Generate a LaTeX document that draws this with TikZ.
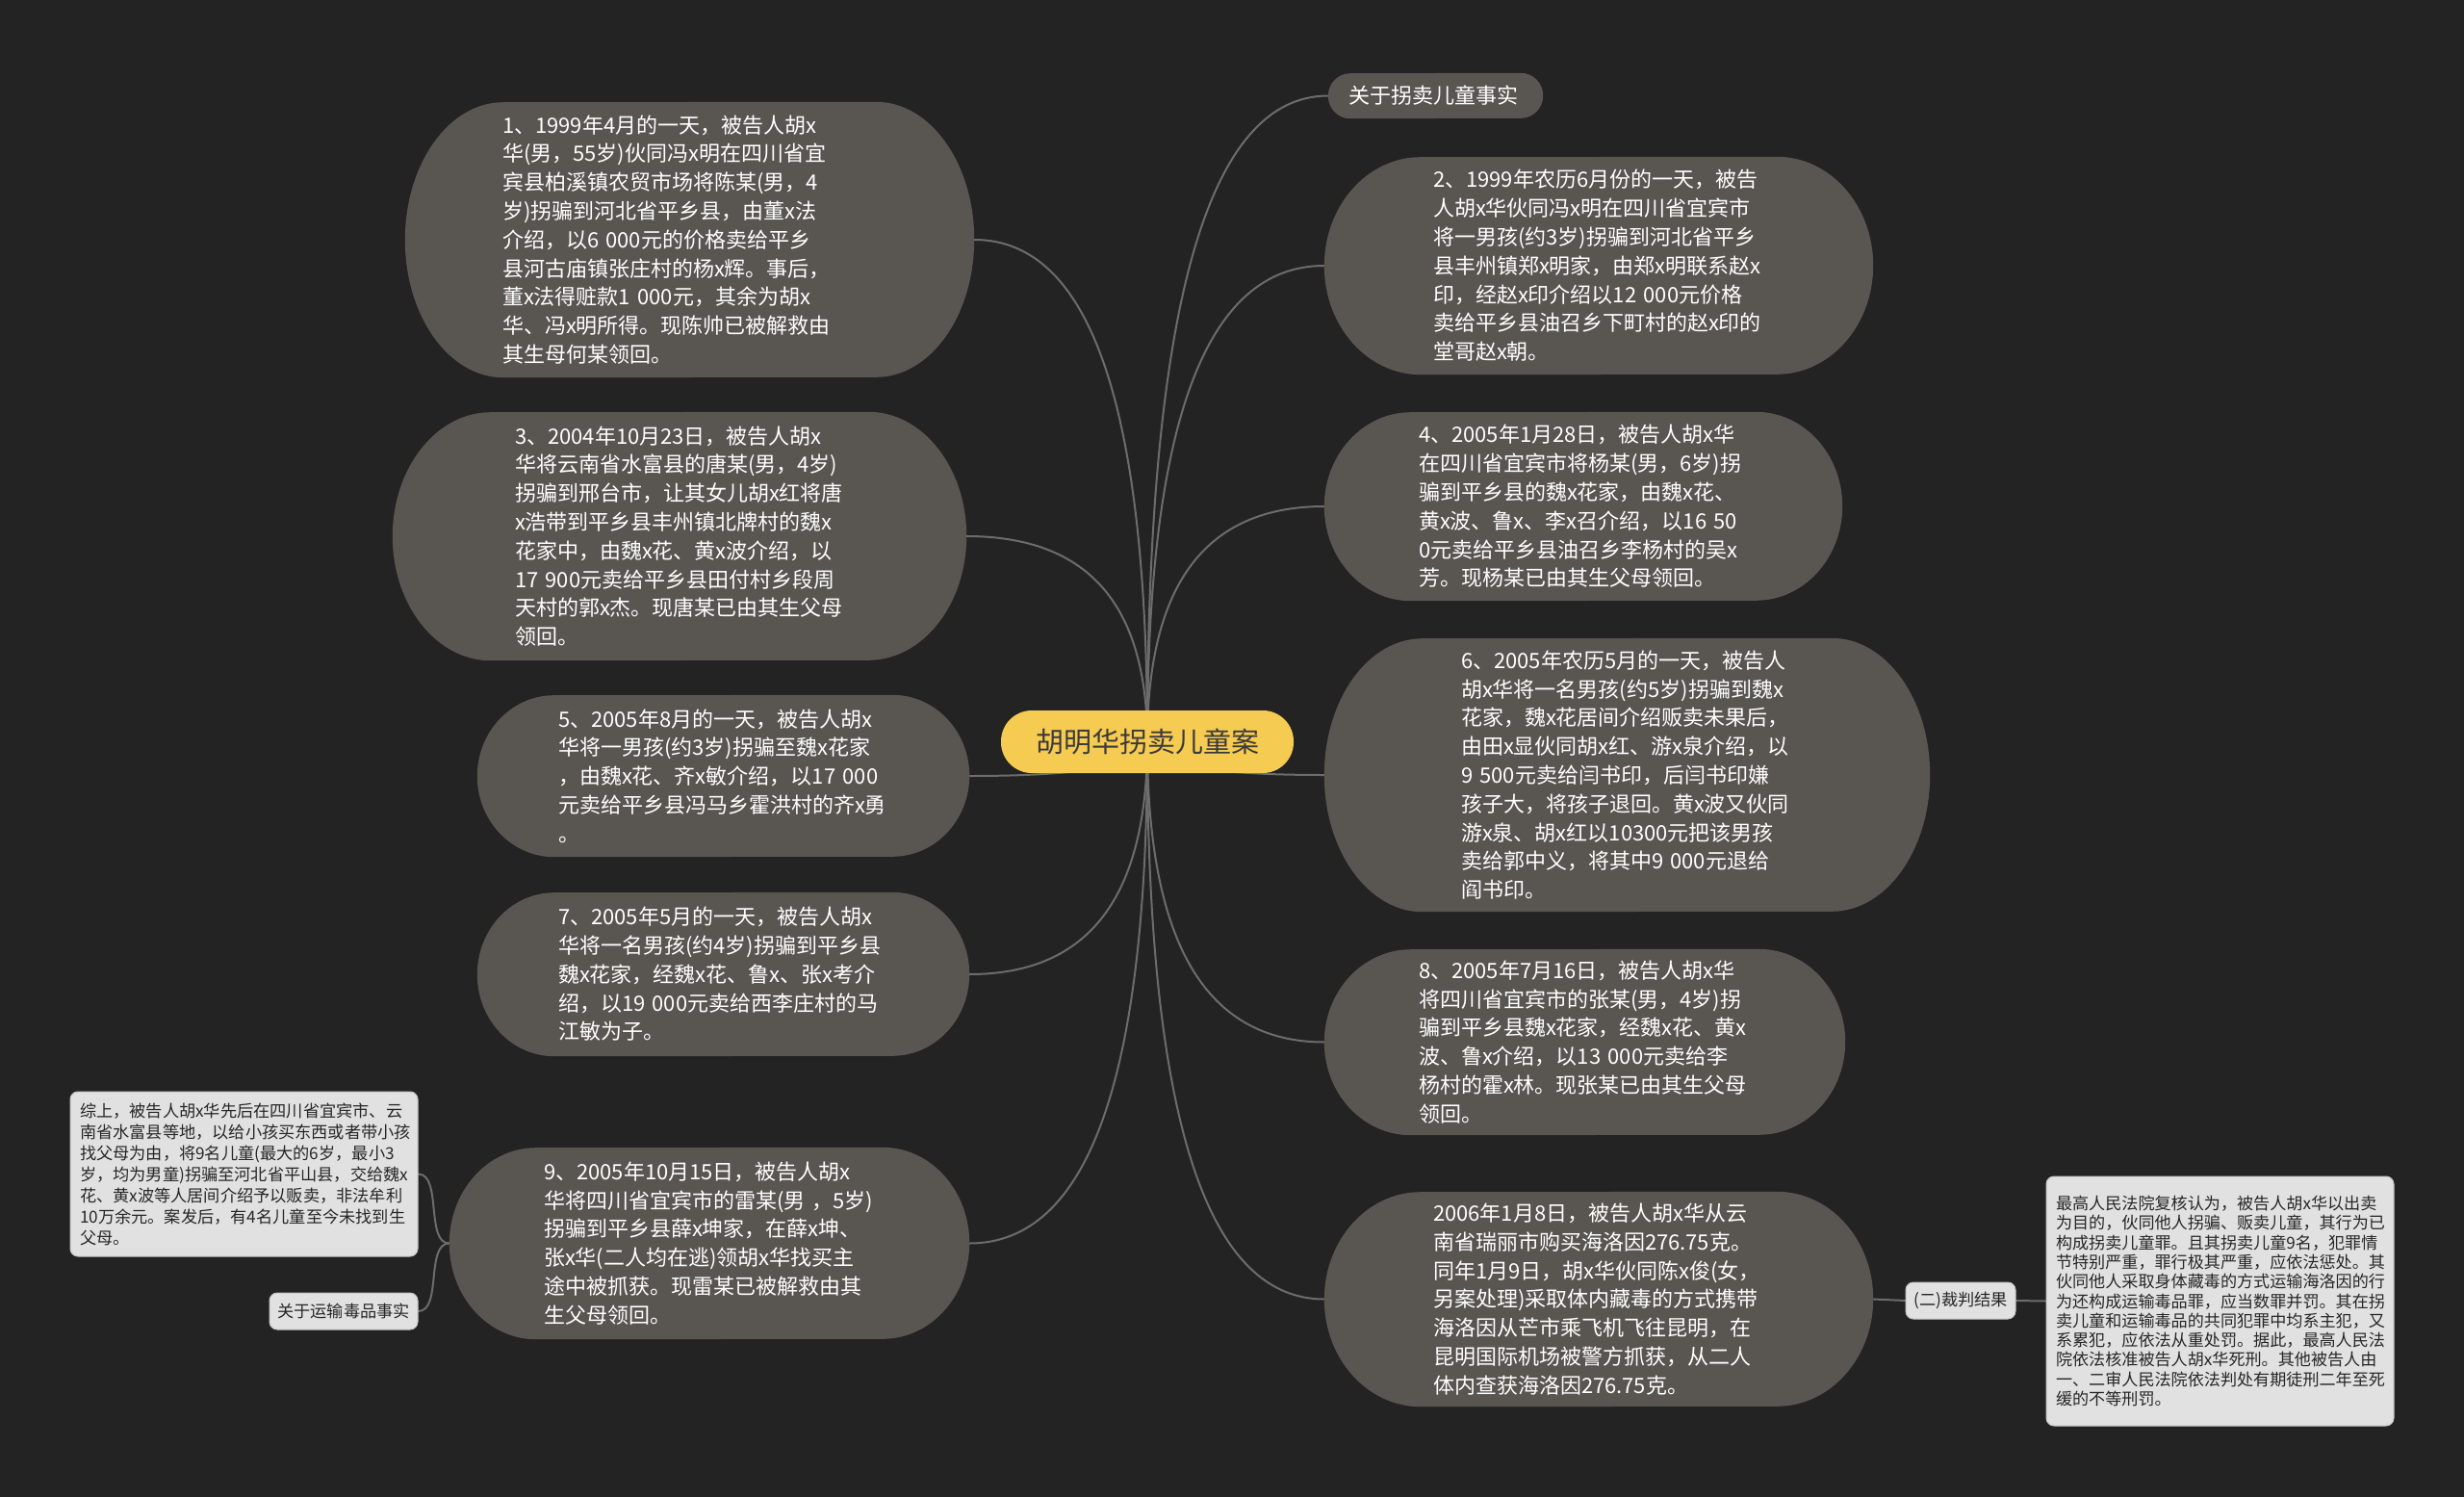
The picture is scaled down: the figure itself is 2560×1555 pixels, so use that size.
\documentclass[tikz,border=0pt]{standalone}
\usepackage{fontspec}
\setmainfont{Noto Sans CJK SC}
\usetikzlibrary{calc}
\pgfdeclarelayer{back}
\pgfdeclarelayer{links}
\pgfdeclarelayer{shapes}
\pgfsetlayers{back,links,shapes,main}
\definecolor{bgc}{HTML}{232323}
\definecolor{nodegray}{HTML}{595652}
\definecolor{nodetext}{HTML}{FFFFFF}
\definecolor{linegray}{HTML}{6C6C6C}
\definecolor{rootyellow}{HTML}{F6CB52}
\definecolor{roottext}{HTML}{3A3A3A}
\definecolor{lightbox}{HTML}{E1E1E1}
\definecolor{lightedge}{HTML}{C4C4C4}
\definecolor{darktext}{HTML}{262626}
\tikzset{
  gnode/.style={rectangle, text=nodetext, align=left, inner ysep=0pt,
    font=\fontsize{22}{29.8}\selectfont},
  lnode/.style={rectangle, fill=lightbox, draw=lightedge, line width=1pt, rounded corners=8pt,
    text=darktext, inner ysep=0pt},
  rootnode/.style={rectangle, fill=rootyellow, text=roottext, rounded corners=32pt,
    font=\fontsize{29}{34}\selectfont},
  conn/.style={draw=linegray, line width=2pt, line cap=round},
  pillfill/.style={fill=nodegray}
}
% quadratic-like branch from the root to a child
\newcommand\curvelink[2]{\draw[conn] (#1) .. controls ($(#1)!0.67!(#1 |- #2)$) and ($(#2)!0.67!(#1 |- #2)$) .. (#2);}
% pill body with elliptical ends behind a node: #1 name, #2 end x-radius, #3 half height
\newcommand\pill[3]{\fill[pillfill] ([xshift=-#2pt]#1.north east) arc[start angle=90, end angle=-90, x radius=#2pt, y radius=#3pt] -- ([xshift=#2pt]#1.south west) arc[start angle=270, end angle=90, x radius=#2pt, y radius=#3pt] -- cycle;}
\begin{document}
\begin{tikzpicture}[x=1pt,y=-1pt]
\useasboundingbox (0,0) rectangle (2560,1555);
\begin{pgfonlayer}{back}
\fill[bgc] (0,0) rectangle (2560,1555);
\end{pgfonlayer}

% root
\node[rootnode, minimum width=304pt, minimum height=65pt] (root) at (1192,770.5) {胡明华拐卖儿童案};

% left children
\node[gnode, text width=389pt, inner xsep=101pt, minimum height=286pt] (n1) at (716.5,249) {1、1999年4月的一天，被告人胡x\\华(男，55岁)伙同冯x明在四川省宜\\宾县柏溪镇农贸市场将陈某(男，4\\岁)拐骗到河北省平乡县，由董x法\\介绍，以6~000元的价格卖给平乡\\县河古庙镇张庄村的杨x辉。事后，\\董x法得赃款1~000元，其余为胡x\\华、冯x明所得。现陈帅已被解救由\\其生母何某领回。};

\node[gnode, text width=342pt, inner xsep=127pt, minimum height=258pt] (n3) at (706,557) {3、2004年10月23日，被告人胡x\\华将云南省水富县的唐某(男，4岁)\\拐骗到邢台市，让其女儿胡x红将唐\\x浩带到平乡县丰州镇北牌村的魏x\\花家中，由魏x花、黄x波介绍，以\\17~900元卖给平乡县田付村乡段周\\天村的郭x杰。现唐某已由其生父母\\领回。};

\node[gnode, text width=343pt, inner xsep=84pt, minimum height=168pt] (n5) at (751.5,806) {5、2005年8月的一天，被告人胡x\\华将一男孩(约3岁)拐骗至魏x花家\\，由魏x花、齐x敏介绍，以17~000\\元卖给平乡县冯马乡霍洪村的齐x勇\\。};

\node[gnode, text width=343pt, inner xsep=84pt, minimum height=170pt] (n7) at (751.5,1012) {7、2005年5月的一天，被告人胡x\\华将一名男孩(约4岁)拐骗到平乡县\\魏x花家，经魏x花、鲁x、张x考介\\绍，以19~000元卖给西李庄村的马\\江敏为子。};

\node[gnode, text width=344pt, inner xsep=98pt, minimum height=199pt] (n9) at (737,1291.5) {9、2005年10月15日，被告人胡x\\华将四川省宜宾市的雷某(男~，5岁)\\拐骗到平乡县薛x坤家，在薛x坤、\\张x华(二人均在逃)领胡x华找买主\\途中被抓获。现雷某已被解救由其\\生父母领回。};

% right children
\node[gnode, text width=181pt, inner xsep=21pt, minimum height=47pt] (t0) at (1491.5,99.5) {关于拐卖儿童事实};

\node[gnode, text width=344pt, inner xsep=113pt, minimum height=226pt] (n2) at (1661,276) {2、1999年农历6月份的一天，被告\\人胡x华伙同冯x明在四川省宜宾市\\将一男孩(约3岁)拐骗到河北省平乡\\县丰州镇郑x明家，由郑x明联系赵x\\印，经赵x印介绍以12~000元价格\\卖给平乡县油召乡下町村的赵x印的\\堂哥赵x朝。};

\node[gnode, text width=342pt, inner xsep=98pt, minimum height=196pt] (n4) at (1645,526) {4、2005年1月28日，被告人胡x华\\在四川省宜宾市将杨某(男，6岁)拐\\骗到平乡县的魏x花家，由魏x花、\\黄x波、鲁x、李x召介绍，以16~50\\0元卖给平乡县油召乡李杨村的吴x\\芳。现杨某已由其生父母领回。};

\node[gnode, text width=345pt, inner xsep=142pt, minimum height=284pt] (n6) at (1690.5,805) {6、2005年农历5月的一天，被告人\\胡x华将一名男孩(约5岁)拐骗到魏x\\花家，魏x花居间介绍贩卖未果后，\\由田x显伙同胡x红、游x泉介绍，以\\9~500元卖给闫书印，后闫书印嫌\\孩子大，将孩子退回。黄x波又伙同\\游x泉、胡x红以10300元把该男孩\\卖给郭中义，将其中9~000元退给\\阎书印。};

\node[gnode, text width=345pt, inner xsep=98pt, minimum height=193pt] (n8) at (1646.5,1082.5) {8、2005年7月16日，被告人胡x华\\将四川省宜宾市的张某(男，4岁)拐\\骗到平乡县魏x花家，经魏x花、黄x\\波、鲁x介绍，以13~000元卖给李\\杨村的霍x林。现张某已由其生父母\\领回。};

\node[gnode, text width=344pt, inner xsep=113pt, minimum height=223pt] (dr) at (1661,1349.5) {2006年1月8日，被告人胡x华从云\\南省瑞丽市购买海洛因276.75克。\\同年1月9日，胡x华伙同陈x俊(女，\\另案处理)采取体内藏毒的方式携带\\海洛因从芒市乘飞机飞往昆明，在\\昆明国际机场被警方抓获，从二人\\体内查获海洛因276.75克。};

% light boxes
\node[lnode, text width=341pt, inner xsep=10pt, minimum height=171pt, align=left, font=\fontsize{17.2}{22}\selectfont] (zs) at (253.5,1219.5) {综上，被告人胡x华先后在四川省宜宾市、云\\南省水富县等地，以给小孩买东西或者带小孩\\找父母为由，将9名儿童(最大的6岁，最小3\\岁，均为男童)拐骗至河北省平山县，交给魏x\\花、黄x波等人居间介绍予以贩卖，非法牟利\\10万余元。案发后，有4名儿童至今未找到生\\父母。};

\node[lnode, minimum width=154pt, minimum height=38pt, font=\fontsize{17.2}{20}\selectfont] (ys) at (357,1362) {关于运输毒品事实};

\node[lnode, minimum width=114pt, minimum height=38pt, font=\fontsize{17.2}{20}\selectfont] (cp) at (2037,1351) {(二)裁判结果};

\node[lnode, text width=341pt, inner xsep=10pt, minimum height=259pt, align=left, font=\fontsize{17.1}{20.3}\selectfont] (jd) at (2306.5,1351.5) {最高人民法院复核认为，被告人胡x华以出卖\\为目的，伙同他人拐骗、贩卖儿童，其行为已\\构成拐卖儿童罪。且其拐卖儿童9名，犯罪情\\节特别严重，罪行极其严重，应依法惩处。其\\伙同他人采取身体藏毒的方式运输海洛因的行\\为还构成运输毒品罪，应当数罪并罚。其在拐\\卖儿童和运输毒品的共同犯罪中均系主犯，又\\系累犯，应依法从重处罚。据此，最高人民法\\院依法核准被告人胡x华死刑。其他被告人由\\一、二审人民法院依法判处有期徒刑二年至死\\缓的不等刑罚。};

% pill bodies
\begin{pgfonlayer}{shapes}
\pill{n1}{102}{143}
\pill{n3}{102}{129}
\pill{n5}{80}{84}
\pill{n7}{80}{85}
\pill{n9}{90}{99.5}
\pill{t0}{23}{23.5}
\pill{n2}{100}{113}
\pill{n4}{90}{98}
\pill{n6}{102}{142}
\pill{n8}{90}{96.5}
\pill{dr}{100}{111.5}
\end{pgfonlayer}

% connectors
\begin{pgfonlayer}{links}
\curvelink{root.center}{n1.east}
\curvelink{root.center}{n3.east}
\curvelink{root.center}{n5.east}
\curvelink{root.center}{n7.east}
\curvelink{root.center}{n9.east}
\curvelink{root.center}{t0.west}
\curvelink{root.center}{n2.west}
\curvelink{root.center}{n4.west}
\curvelink{root.center}{n6.west}
\curvelink{root.center}{n8.west}
\curvelink{root.center}{dr.west}
\draw[conn] (n9.west) .. controls +(-25,0) and +(25,0) .. (zs.east);
\draw[conn] (n9.west) .. controls +(-25,0) and +(25,0) .. (ys.east);
\draw[conn] (dr.east) -- (cp.west);
\draw[conn] (cp.east) -- (jd.west);
\end{pgfonlayer}
\end{tikzpicture}
\end{document}
